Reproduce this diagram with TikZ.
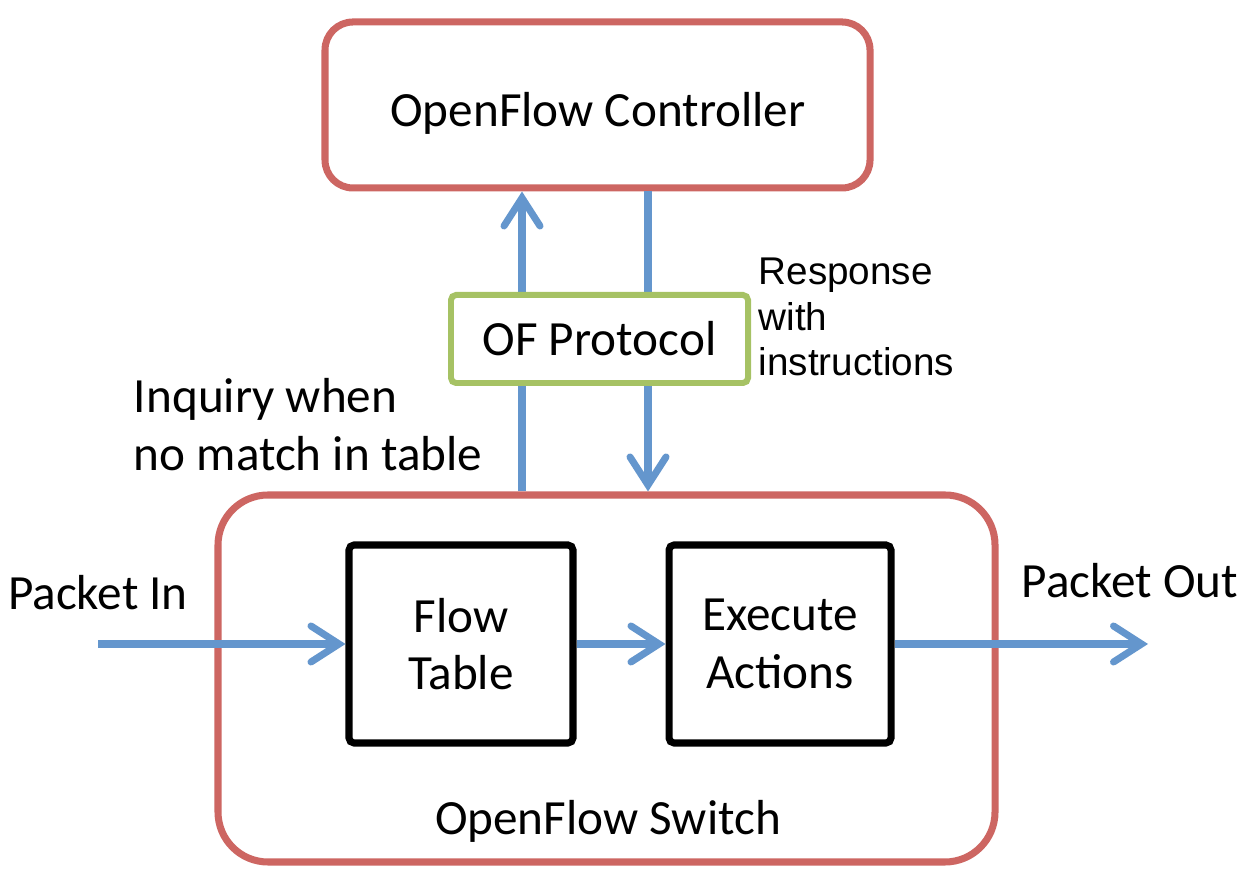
\documentclass[tikz,border=0pt]{standalone}
\usepackage{fontspec}
\setmainfont{Carlito}
\newfontfamily\arialfont{Liberation Sans}
\usetikzlibrary{arrows.meta, positioning}
\definecolor{ofred}{RGB}{205,102,98}
\definecolor{ofgreen}{RGB}{166,194,100}
\definecolor{ofblue}{RGB}{100,150,205}
\tikzset{
  redbox/.style={shape=rectangle, draw=ofred, line width=2pt, fill=white},
  blackbox/.style={shape=rectangle, draw=black, line width=2pt, rounded corners=0.5mm, align=center, font=\fontsize{14}{16.3}\selectfont},
  flow/.style={draw=ofblue, line width=2pt, -{Straight Barb[length=2.8mm, width=3.6mm, line cap=round]}},
  txt/.style={inner sep=0pt, font=\fontsize{14}{16.5}\selectfont}
}
\begin{document}
\begin{tikzpicture}[transform shape]
	\useasboundingbox (0,0) rectangle (12.48,8.87);
	% Boxes:
	\node[redbox, rounded corners=5mm, minimum width=7.77cm, minimum height=3.67cm] (switch) at (6.065, 2.085){};
	\node[txt, anchor=center] (switchtext) at (6.08, 0.66){OpenFlow Switch};
	\node[redbox, rounded corners=2.8mm, minimum width=5.45cm, minimum height=1.66cm] (ctrl) at (5.975, 7.82){};
	\node[txt, anchor=center] (ctrltext) at (5.98, 7.74){OpenFlow Controller};
	\node[blackbox, minimum width=2.24cm, minimum height=1.98cm] (table) at (4.61, 2.43){Flow\\Table};
	\node[blackbox, minimum width=2.22cm, minimum height=1.98cm] (exec) at (7.80, 2.43){Execute\\Actions};
	% Free ends and wires:
	\coordinate (in) at (0.98, 2.43);
	\coordinate (out) at (11.48, 2.43);
	\coordinate (upx) at (5.22, 0);
	\coordinate (downx) at (6.48, 0);
	\draw[flow] (in) -- (table.west);
	\draw[flow] (table.east) -- (exec.west);
	\draw[flow] (exec.east) -- (out);
	\draw[flow] (switch.north -| upx) -- (ctrl.south -| upx);
	\draw[flow] (ctrl.south -| downx) -- (switch.north -| downx);
	\node[shape=rectangle, draw=ofgreen, line width=1.7pt, fill=white, rounded corners=0.5mm, minimum width=2.97cm, minimum height=0.88cm, txt] (proto) at (5.995, 5.48){OF Protocol};
	% Labels:
	\node[txt, above=0.33cm of in] (intext){Packet In};
	\node[txt, anchor=center] (outtext) at (11.30, 3.06){Packet Out};
	\node[txt, anchor=east, align=left] (inquiry) at (4.83, 4.62){Inquiry when\\no match in table};
	\node[inner sep=0pt, anchor=west, align=left, font=\arialfont\fontsize{11}{13}\selectfont] (response) at (7.58, 5.70){Response\\with\\instructions};
\end{tikzpicture}
\end{document}
